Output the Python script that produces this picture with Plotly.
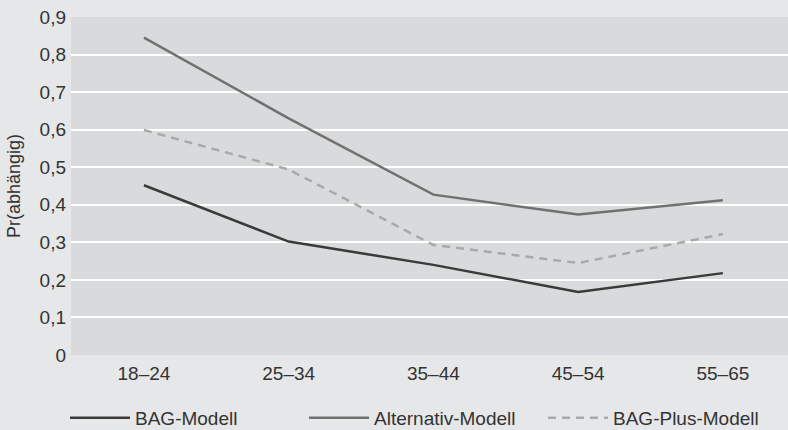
import plotly.graph_objects as go

categories = ["18–24", "25–34", "35–44", "45–54", "55–65"]
bag_modell = [0.452, 0.302, 0.240, 0.168, 0.218]
alternativ_modell = [0.845, 0.630, 0.427, 0.374, 0.412]
bag_plus_modell = [0.599, 0.494, 0.293, 0.245, 0.322]
y_tick_values = [0, 0.1, 0.2, 0.3, 0.4, 0.5, 0.6, 0.7, 0.8, 0.9]
y_tick_labels = ["0", "0,1", "0,2", "0,3", "0,4", "0,5", "0,6", "0,7", "0,8", "0,9"]

FONT = "Liberation Sans"
TXT = "#333333"

fig = go.Figure()
fig.add_trace(go.Scatter(x=list(range(len(categories))), y=bag_modell, mode="lines",
                         name="BAG-Modell", line=dict(color="#3a3a3a", width=2.5)))
fig.add_trace(go.Scatter(x=list(range(len(categories))), y=alternativ_modell, mode="lines",
                         name="Alternativ-Modell", line=dict(color="#717171", width=2.5)))
fig.add_trace(go.Scatter(x=list(range(len(categories))), y=bag_plus_modell, mode="lines",
                         name="BAG-Plus-Modell", line=dict(color="#a9a9a9", width=2.5, dash="8px,6px")))

fig.update_layout(
    width=788, height=430,
    margin=dict(l=71, r=0, t=17, b=75, autoexpand=False),
    paper_bgcolor="#e6e7e8",
    plot_bgcolor="#d9dadc",
    font=dict(family=FONT, size=18, color=TXT),
    showlegend=True,
    legend=dict(orientation="h", x=0.0825, xanchor="left", y=0.028, yanchor="middle",
                xref="container", yref="container", bgcolor="rgba(0,0,0,0)",
                font=dict(family=FONT, size=19, color=TXT), itemwidth=60,
                entrywidth=164, tracegroupgap=0),
)
fig.update_xaxes(
    tickmode="array", tickvals=list(range(len(categories))), ticktext=categories,
    range=[-0.504, 4.45], showgrid=False, zeroline=False, showline=False,
    ticks="", tickangle=0, automargin=False, ticklabelstandoff=5,
    tickfont=dict(family=FONT, size=19, color=TXT), fixedrange=True,
)
fig.update_yaxes(
    tickmode="array", tickvals=y_tick_values, ticktext=y_tick_labels,
    range=[0, 0.9], showgrid=True, gridcolor="#ffffff", gridwidth=1.5,
    zeroline=False, showline=False, ticks="", automargin=False, ticklabelstandoff=4,
    tickfont=dict(family=FONT, size=19, color=TXT),
    title=dict(text="Pr(abhängig)", font=dict(family=FONT, size=18, color=TXT), standoff=14),
    fixedrange=True,
)

fig.write_html("out.html", config={"displayModeBar": False},
               post_script="document.body.style.margin='0';")
